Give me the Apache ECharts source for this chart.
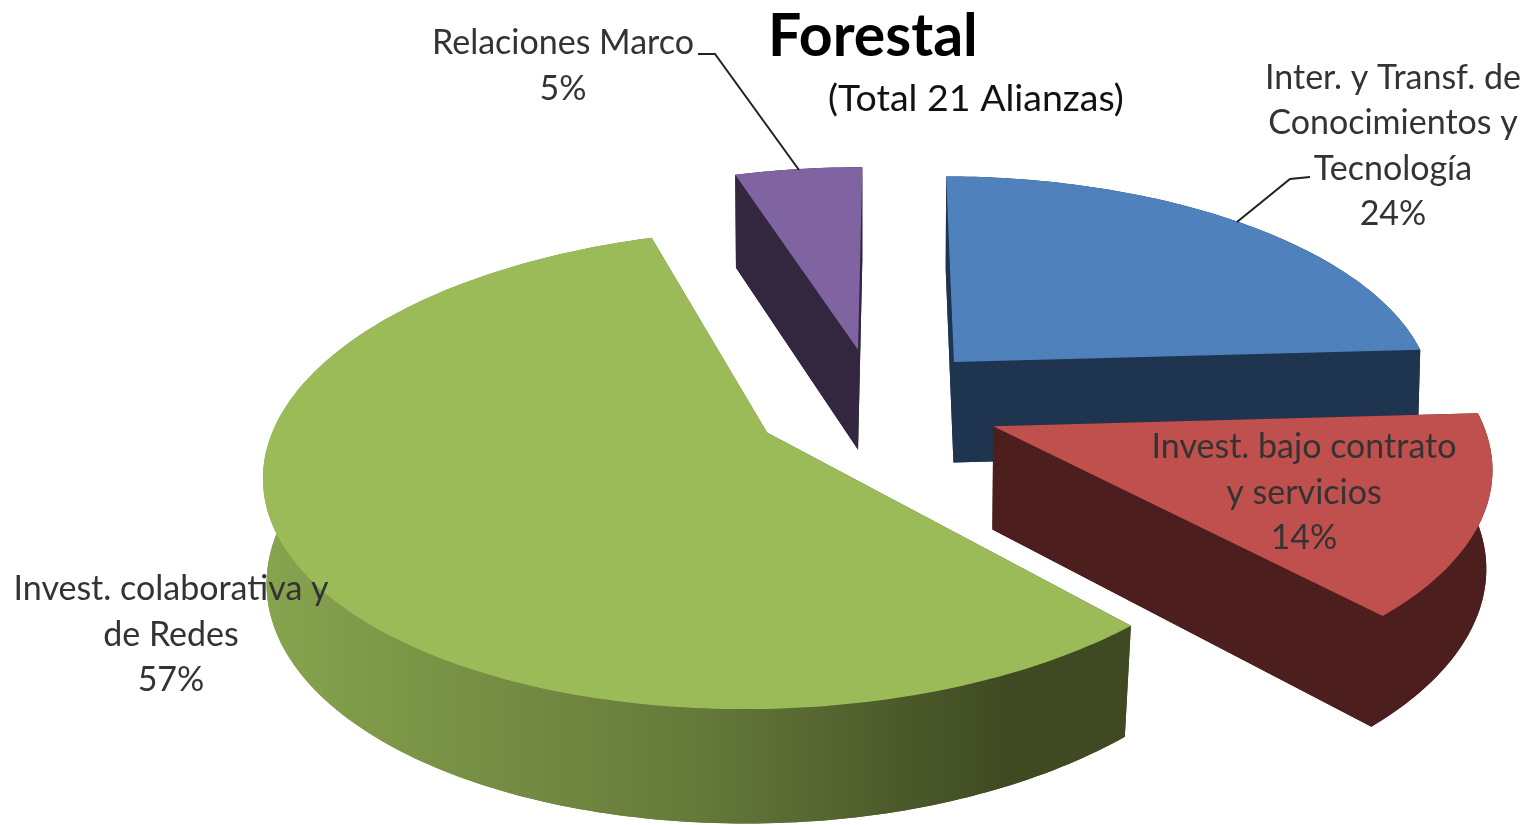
<!DOCTYPE html>
<html>
<head>
<meta charset="utf-8">
<style>html,body{margin:0;padding:0;background:#fff}#c{width:1525px;height:825px}</style>
<script src="https://cdn.jsdelivr.net/npm/echarts@6/dist/echarts.min.js"></script>
</head>
<body>
<div id="c"></div>
<script>
const categories = ['Inter. y Transf. de\nConocimientos y\nTecnología', 'Invest. bajo contrato\ny servicios', 'Invest. colaborativa y\nde Redes', 'Relaciones Marco'];
const values = [24, 14, 57, 5];
const topColors = ['#4f81bd', '#c0504d', '#9bbb59', '#8064a2'];
const sideColors = ['#1f344f', '#4d1e1e', null, '#33263f'];
const explode = [0.24, 0.24, 0.29, 0.24];
const nudges = [[-6, 0], [2, 6], [9, -1], [-7, 1]];
const labelAnchors = [[1393, 146], [1304, 493], [171, 635], [563, 66]];
const view = { cx: 882, cy: 400, a: 484, b: 224, p: 0.15, startDeg: 0.3 };

function project(U, V, n) {
  const s = 1 / (1 - view.p * V);
  return [view.cx + n[0] + view.a * U * s, view.cy + n[1] + view.b * V * s];
}
function extrude(pt) {
  const k = pt[0] > 860 ? Math.max(0.005, 0.01 + 0.012 * (pt[1] - 470) / 150) : 0.006;
  return [pt[0] - k * (pt[0] - 860), pt[1] + 100 + 0.04 * (pt[1] - 350)];
}
const total = values.reduce((a, b) => a + b, 0);
const greenSide = new echarts.graphic.LinearGradient(265, 0, 1135, 0, [
  { offset: 0, color: '#86a44e' },
  { offset: 0.5, color: '#65793a' },
  { offset: 0.85, color: '#3f4a22' },
  { offset: 1, color: '#3f4a22' }
], true);

function renderSlice(params, api) {
  const i = params.dataIndex;
  let before = 0;
  for (let k = 0; k < i; k++) before += values[k];
  const d0 = view.startDeg + before / total * 360;
  const d1 = d0 + values[i] / total * 360;
  const mid = (d0 + d1) / 2 * Math.PI / 180;
  const ox = explode[i] * Math.sin(mid), oy = -explode[i] * Math.cos(mid);
  const apex = project(ox, oy, nudges[i]);
  const arc = [];
  const n = Math.max(4, Math.ceil(d1 - d0));
  for (let k = 0; k <= n; k++) {
    const t = (d0 + (d1 - d0) * k / n) * Math.PI / 180;
    arc.push(project(ox + Math.sin(t), oy - Math.cos(t), nudges[i]));
  }
  const apexB = extrude(apex), arcB = arc.map(extrude);
  const side = sideColors[i] || greenSide;
  const poly = (points, fill, z2) => ({ type: 'polygon', z2, shape: { points }, style: { fill, stroke: null } });
  const first = arc[0], last = arc[arc.length - 1];
  const children = [
    poly([apexB].concat(arcB), side, 1),
    poly(arc.concat(arcB.slice().reverse()), side, 2),
    poly([apex, first, arcB[0], apexB], side, 2),
    poly([apex, last, arcB[arcB.length - 1], apexB], side, 2),
    poly([apex].concat(arc), topColors[i], 3),
    {
      type: 'text', z2: 5, x: labelAnchors[i][0], y: labelAnchors[i][1],
      style: {
        text: categories[i] + '\n' + values[i] + '%',
        fill: '#333', font: '34px Lato', align: 'center', verticalAlign: 'middle',
        lineHeight: 45.5
      }
    }
  ];
  return { type: 'group', children };
}

const chart = echarts.init(document.getElementById('c'), null, { renderer: 'canvas' });
chart.setOption({
  animation: false,
  backgroundColor: '#fff',
  title: [
    { text: 'Forestal', left: 768, top: 7, padding: 0, textStyle: { fontFamily: 'Lato', fontWeight: 'bold', fontSize: 59, color: '#000' } },
    { text: '(Total 21 Alianzas)', left: 828, top: 80, padding: 0, textStyle: { fontFamily: 'Lato', fontWeight: 'normal', fontSize: 37.5, color: '#111' } }
  ],
  graphic: [
    { type: 'polyline', z: 10, shape: { points: [[698, 54], [715, 54], [799, 170]] }, style: { stroke: '#222', lineWidth: 2, fill: null } },
    { type: 'polyline', z: 10, shape: { points: [[1310, 177], [1290, 179], [1237, 222]] }, style: { stroke: '#222', lineWidth: 2, fill: null } }
  ],
  series: [{
    type: 'custom',
    coordinateSystem: 'none',
    renderItem: renderSlice,
    silent: true,
    data: values.map((v, i) => ({ name: categories[i], value: v }))
  }]
});
</script>
</body>
</html>
